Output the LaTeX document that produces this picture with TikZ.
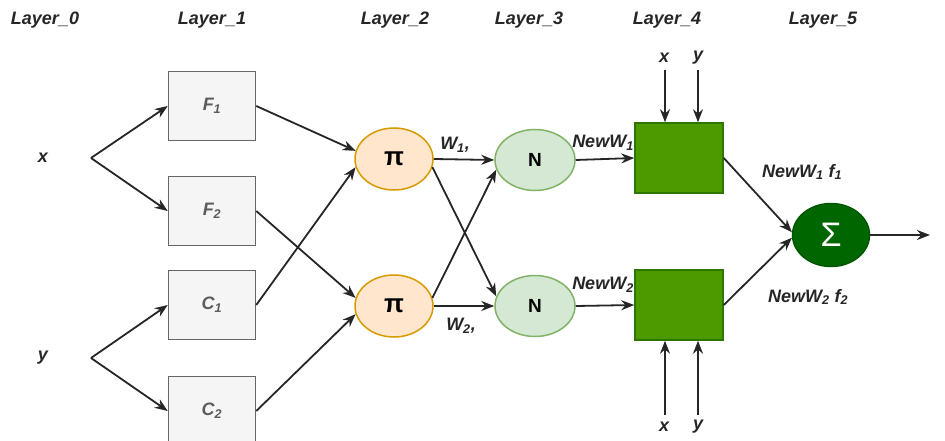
\documentclass[tikz,border=0pt]{standalone}
\usepackage{fontspec}
\setmainfont{Liberation Sans}
\usetikzlibrary{shapes.geometric,arrows.meta}
\definecolor{ink}{HTML}{262626}
\definecolor{boxfill}{HTML}{F5F5F5}
\definecolor{boxline}{HTML}{666666}
\definecolor{pifill}{HTML}{FFE6CC}
\definecolor{piline}{HTML}{D79B00}
\definecolor{nfill}{HTML}{D5E8D4}
\definecolor{nline}{HTML}{82B366}
\definecolor{gfill}{HTML}{4D9900}
\definecolor{gline}{HTML}{2D7600}
\definecolor{sfill}{HTML}{006600}
\definecolor{sline}{HTML}{005700}
\tikzset{
  lbl/.style={font=\fontsize{18}{20}\selectfont\bfseries\itshape, text=ink, inner sep=0pt},
  mfbox/.style={draw=boxline, fill=boxfill, line width=1.5pt, minimum width=87pt, minimum height=69pt, inner sep=0pt, font=\fontsize{18}{20}\selectfont\bfseries\itshape, text=ink!75},
  prodnode/.style={ellipse, draw=piline, fill=pifill, line width=1.5pt, minimum width=78pt, minimum height=62pt, inner sep=0pt, font=\fontsize{26}{28}\selectfont\bfseries, text=black},
  normnode/.style={ellipse, draw=nline, fill=nfill, line width=1.5pt, minimum width=80pt, minimum height=61pt, inner sep=0pt, font=\fontsize{19}{21}\selectfont\bfseries, text=black},
  defuz/.style={draw=gline, fill=gfill, line width=1.5pt, minimum width=88pt, minimum height=70pt, inner sep=0pt},
  sumnode/.style={ellipse, draw=sline, fill=sfill, line width=1.5pt, minimum width=77pt, minimum height=63pt, inner sep=0pt, font=\fontsize{34}{36}\selectfont, text=white},
  flow/.style={draw=ink, line width=1.8pt, -{Stealth[length=13pt,width=10pt]}},
}
\begin{document}
\begin{tikzpicture}[x=1pt,y=-1pt]
\useasboundingbox (0,0) rectangle (945,441);

% layer captions
\node[lbl] (l0) at (45,20) {Layer\_0};
\node[lbl] (l1) at (212,20) {Layer\_1};
\node[lbl] (l2) at (395,20) {Layer\_2};
\node[lbl] (l3) at (529,20) {Layer\_3};
\node[lbl] (l4) at (667,20) {Layer\_4};
\node[lbl] (l5) at (823,20) {Layer\_5};

% inputs
\node[lbl] (xin) at (43,158) {x};
\node[lbl] (yin) at (43,358) {y};
\coordinate (xf) at (91,158);
\coordinate (yf) at (91,358);

% layer 1: membership functions
\node[mfbox] (F1) at (212,106) {F\textsubscript{1}};
\node[mfbox] (F2) at (212,211) {F\textsubscript{2}};
\node[mfbox] (C1) at (212,305) {C\textsubscript{1}};
\node[mfbox] (C2) at (212,411) {C\textsubscript{2}};

% layer 2: product nodes
\node[prodnode] (P1) at (394,159) {π};
\node[prodnode] (P2) at (394,306) {π};

% layer 3: normalisation
\node[normnode] (N1) at (535,160) {N};
\node[normnode] (N2) at (535,306) {N};

% layer 4: consequent blocks
\node[defuz] (G1) at (679,158) {};
\node[defuz] (G2) at (679,305) {};

% layer 5: summation
\node[sumnode] (S) at (831,235) {Σ};
\coordinate (out) at (930,235);

% input fan-out
\draw[flow] (xf) -- (F1.west);
\draw[flow] (xf) -- (F2.west);
\draw[flow] (yf) -- (C1.west);
\draw[flow] (yf) -- (C2.west);

% rule firing
\draw[flow] (F1.east) -- (P1.168);
\draw[flow] (C1.east) -- (P1.192);
\draw[flow] (F2.east) -- (P2.168);
\draw[flow] (C2.east) -- (P2.192);

% normalisation links
\draw[flow] (P1.east) -- (N1.west);
\draw[flow] (P1.-12) -- (N2.166);
\draw[flow] (P2.12) -- (N1.194);
\draw[flow] (P2.east) -- (N2.west);
\node[lbl] (w1) at (455,145) {W\textsubscript{1},};
\node[lbl] (w2) at (461,326) {W\textsubscript{2},};

% weighted consequents
\draw[flow] (N1.east) -- (G1.west);
\draw[flow] (N2.east) -- (G2.west);
\node[lbl] (nw1) at (603,143) {NewW\textsubscript{1}};
\node[lbl] (nw2) at (603,285) {NewW\textsubscript{2}};

% x, y into the consequent blocks
\node[lbl] (tx) at (664,58) {x};
\node[lbl] (ty) at (698,58) {y};
\coordinate (txs) at (665,70);
\coordinate (tys) at (698,70);
\draw[flow] (txs) -- (txs |- G1.north);
\draw[flow] (tys) -- (tys |- G1.north);
\node[lbl] (bx) at (664,427) {x};
\node[lbl] (by) at (698,427) {y};
\coordinate (bxs) at (665,415);
\coordinate (bys) at (698,415);
\draw[flow] (bxs) -- (bxs |- G2.south);
\draw[flow] (bys) -- (bys |- G2.south);

% summation
\draw[flow] (G1.east) -- (S.176);
\draw[flow] (G2.east) -- (S.184);
\draw[flow] (S.east) -- (out);
\node[lbl] (o1) at (802,172) {NewW\textsubscript{1} f\textsubscript{1}};
\node[lbl] (o2) at (808,297) {NewW\textsubscript{2} f\textsubscript{2}};
\end{tikzpicture}
\end{document}
